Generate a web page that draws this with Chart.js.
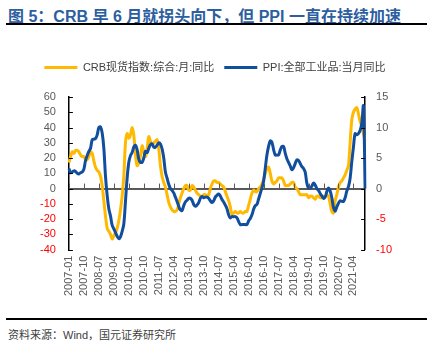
<!DOCTYPE html>
<html>
<head>
<meta charset="utf-8">
<script src="https://cdn.jsdelivr.net/npm/chart.js@4.4.1/dist/chart.umd.min.js"></script>
<style>
  body { margin: 0; width: 427px; height: 346px; background: #fff; position: relative; overflow: hidden;
         font-family: "Liberation Sans", "Noto Sans CJK SC", sans-serif; }
  #title { position: absolute; left: 8px; top: 3px; font-size: 16px; font-weight: bold; color: #2D5E9F; white-space: nowrap; }
  #rule1 { position: absolute; left: 6px; right: 0; top: 23px; height: 2px; background: #000; }
  #box { position: absolute; left: 0; top: 28px; width: 427px; height: 286px; }
  #rule2 { position: absolute; left: 6px; right: 0; top: 318px; height: 2px; background: #000; }
  #src { position: absolute; left: 8px; top: 326px; font-size: 11px; color: #404040; }
</style>
</head>
<body>
<div id="title">图 5：CRB 早 6 月就拐头向下，但 PPI 一直在持续加速</div>
<div id="rule1"></div>
<div id="box"><canvas id="myChart"></canvas></div>
<div id="rule2"></div>
<div id="src">资料来源：Wind，国元证券研究所</div>
<script>
// monthly categories 2007-01 .. 2021-11
const months = [];
for (let y = 2007; y <= 2021; y++) {
  for (let m = 1; m <= 12; m++) {
    if (y === 2021 && m > 11) break;
    months.push(y + '-' + String(m).padStart(2, '0'));
  }
}

const tickLabels = [
  '2007-01', '2007-10', '2008-07', '2009-04', '2010-01', '2010-10', '2011-07',
  '2012-04', '2013-01', '2013-10', '2014-07', '2015-04', '2016-01', '2016-10',
  '2017-07', '2018-04', '2019-01', '2019-10', '2020-07', '2021-04',
];

// CRB现货指数:综合:月:同比 (%), left axis
const crb = [
  17, 21, 24, 23, 25, 25, 24, 22, 21, 21, 19, 19,
  21, 24, 23, 18, 14, 12, 11, 8, 2, -8, -18, -26,
  -28, -30, -33, -31, -29, -26, -21, -14, -5, 8, 30, 36,
  33, 35, 40, 35, 22, 15, 17, 21, 28, 24, 21, 26,
  34, 31, 29, 30, 31, 32, 26, 15, 8, 4, 1, -4,
  -9, -12, -14, -15, -15, -14, -10, -6, -3, 0, 2, 2,
  -1, -1, 2, 1, -1, -3, -4, -5, -5, -4, -4, -5,
  -4, 0, 3, 5, 5, 4, 4, 3, 2, 1, -2, -5,
  -8, -12, -17, -16, -15, -16, -16, -15, -16, -16, -15, -15,
  -11, -7, -3, -1, -2, -2, 0, 1, 3, 6, 10, 13,
  14, 10, 5, 3, 4, 5, 7, 7, 7, 5, 2, 2,
  2, 3, 4, 4, 1, 0, -2, -4, -4, -4, -4, -4,
  -6, -5, -5, -6, -7, -5, -5, -6, -6, -5, -5, -4,
  -5, -10, -15, -16, -8, -4, 1, 4, 5, 7, 9, 12,
  15, 30, 45, 50, 52, 53, 49, 44, 41, 36, 31,
];

// PPI:全部工业品:当月同比 (%), right axis
const ppi = [
  3.3, 2.6, 2.7, 2.9, 2.8, 2.5, 2.4, 2.6, 2.7, 3.2, 4.6, 5.4,
  6.1, 6.6, 8.0, 8.1, 8.2, 8.8, 10.0, 10.1, 9.1, 6.6, 2.0, -1.1,
  -3.3, -4.5, -6.0, -6.6, -7.2, -7.8, -8.2, -7.9, -7.0, -5.8, -2.1, 1.7,
  4.3, 5.4, 5.9, 6.8, 7.1, 6.4, 4.8, 4.3, 4.3, 5.0, 6.1, 5.9,
  6.6, 7.2, 7.3, 6.8, 6.8, 7.1, 7.5, 7.3, 6.5, 5.0, 2.7, 1.7,
  0.7, 0.0, -0.3, -0.7, -1.4, -2.1, -2.9, -3.5, -3.6, -2.8, -2.2, -1.9,
  -1.6, -1.6, -1.9, -2.6, -2.9, -2.7, -2.3, -1.6, -1.3, -1.5, -1.4, -1.4,
  -1.6, -2.0, -2.3, -2.0, -1.4, -1.1, -0.9, -1.2, -1.8, -2.2, -2.7, -3.3,
  -4.3, -4.8, -4.6, -4.6, -4.6, -4.8, -5.4, -5.9, -5.9, -5.9, -5.9, -5.9,
  -5.3, -4.9, -4.3, -3.4, -2.8, -2.6, -1.7, -0.8, 0.1, 1.2, 3.3, 5.5,
  6.9, 7.8, 7.6, 6.4, 5.5, 5.5, 5.5, 6.3, 6.9, 6.9, 5.8, 4.9,
  4.3, 3.7, 3.1, 3.4, 4.1, 4.7, 4.6, 4.1, 3.6, 3.3, 2.7, 0.9,
  0.1, 0.1, 0.4, 0.9, 0.6, 0.0, -0.3, -0.8, -1.2, -1.6, -1.4, -0.5,
  0.1, -0.4, -1.5, -3.1, -3.7, -3.0, -2.4, -2.0, -2.1, -2.1, -1.5, -0.4,
  0.3, 1.7, 4.4, 6.8, 9.0, 8.8, 9.0, 9.5, 10.7, 13.5, 0,
];

const FONT = '"Liberation Sans", "Noto Sans CJK SC", sans-serif';
Chart.defaults.font.family = FONT;
Chart.defaults.font.size = 11;
Chart.defaults.color = '#595959';

const tickColor = (c) => (c.tick && c.tick.value < 0 ? '#FF0000' : '#595959');

// small inward tick marks on both y axes, upward marks on the zero line
const axisMarks = {
  id: 'axisMarks',
  afterDatasetsDraw(chart) {
    const { ctx, chartArea: a, scales } = chart;
    ctx.save();
    ctx.lineWidth = 1;
    ctx.strokeStyle = '#000';
    ctx.beginPath();
    scales.y.ticks.forEach((t) => {
      const py = Math.round(scales.y.getPixelForValue(t.value)) + 0.5;
      ctx.moveTo(a.left, py); ctx.lineTo(a.left + 4, py);
    });
    scales.y1.ticks.forEach((t) => {
      const py = Math.round(scales.y1.getPixelForValue(t.value)) + 0.5;
      ctx.moveTo(a.right - 4, py); ctx.lineTo(a.right, py);
    });
    ctx.stroke();
    ctx.strokeStyle = '#595959';
    ctx.beginPath();
    const y0 = scales.y.getPixelForValue(0);
    tickLabels.forEach((lab) => {
      const px = Math.round(scales.x.getPixelForValue(months.indexOf(lab))) + 0.5;
      ctx.moveTo(px, y0); ctx.lineTo(px, y0 - 5);
    });
    ctx.stroke();
    ctx.restore();
  },
};

const legendGap = {
  id: 'legendGap',
  beforeInit(chart) {
    const fit = chart.legend.fit;
    chart.legend.fit = function () {
      fit.bind(chart.legend)();
      this.height += 14;
    };
  },
};

const ctx = document.getElementById('myChart').getContext('2d');
const myChart = new Chart(ctx, {
  type: 'line',
  data: {
    labels: months,
    datasets: [
      {
        label: 'CRB现货指数:综合:月:同比',
        data: crb,
        yAxisID: 'y',
        borderColor: '#FFB900',
        backgroundColor: '#FFB900',
        borderWidth: 3,
        pointRadius: 0,
        tension: 0.35,
        order: 1,
      },
      {
        label: 'PPI:全部工业品:当月同比',
        data: ppi,
        yAxisID: 'y1',
        borderColor: '#124E9E',
        backgroundColor: '#124E9E',
        borderWidth: 3,
        pointRadius: 0,
        tension: 0.35,
        order: 0,
      },
    ],
  },
  options: {
    responsive: true,
    maintainAspectRatio: false,
    animation: false,
    layout: { padding: { left: 27, right: 24, top: 24, bottom: 12 } },
    plugins: {
      legend: {
        position: 'top',
        labels: {
          usePointStyle: true,
          pointStyle: 'line',
          pointStyleWidth: 33,
          boxHeight: 11,
          padding: 10,
          color: '#404040',
          font: { size: 11 },
          sort: (a, b) => a.datasetIndex - b.datasetIndex,
        },
      },
      tooltip: { enabled: false },
    },
    scales: {
      x: {
        border: { display: false },
        grid: { display: false, drawTicks: false },
        ticks: {
          autoSkip: false,
          maxRotation: 90,
          minRotation: 90,
          padding: 6,
          color: '#595959',
          callback: (v, i) => (tickLabels.includes(months[i]) ? months[i] : ''),
        },
      },
      y: {
        position: 'left',
        min: -40,
        max: 60,
        border: { display: true, color: '#000', width: 1.5 },
        grid: {
          drawTicks: false,
          color: (c) => (c.tick && c.tick.value === 0 ? '#595959' : 'rgba(0,0,0,0)'),
          lineWidth: 2,
        },
        ticks: { stepSize: 10, autoSkip: false, padding: 13, color: tickColor },
      },
      y1: {
        position: 'right',
        min: -10,
        max: 15,
        border: { display: true, color: '#000', width: 1.5 },
        grid: { drawOnChartArea: false, drawTicks: false },
        ticks: { stepSize: 5, autoSkip: false, padding: 11, color: tickColor },
      },
    },
  },
  plugins: [axisMarks, legendGap],
});
</script>
</body>
</html>
